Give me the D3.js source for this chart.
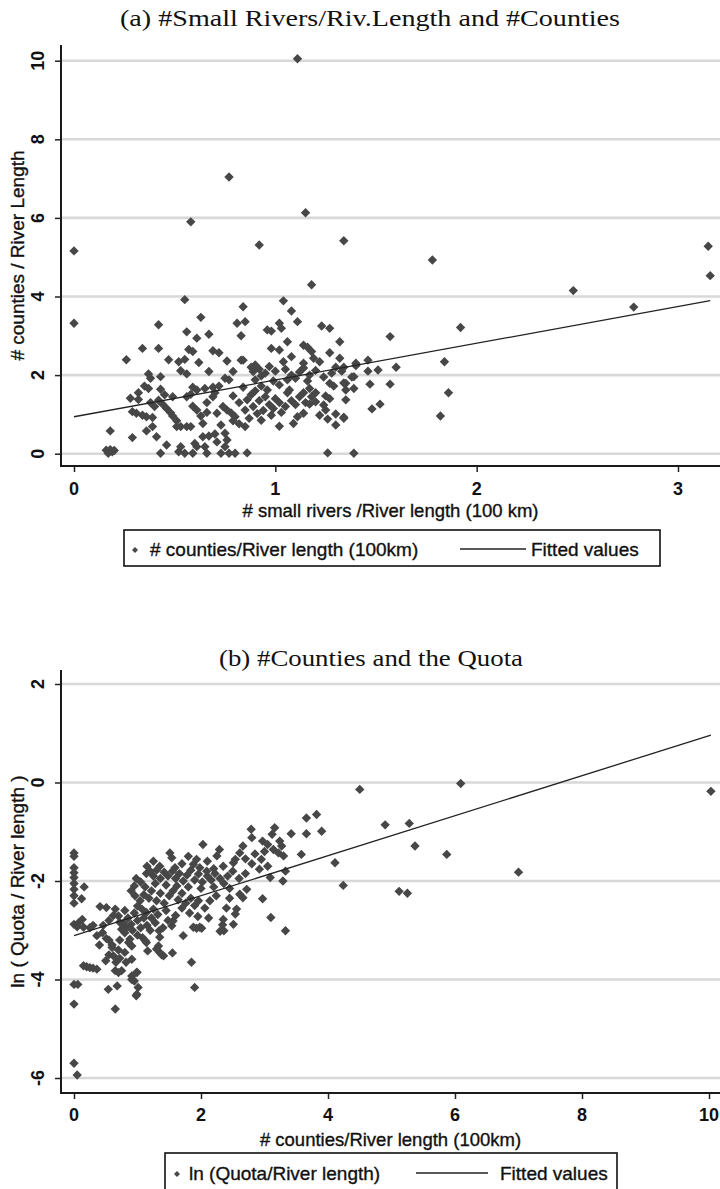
<!DOCTYPE html>
<html><head><meta charset="utf-8">
<script src="https://cdn.jsdelivr.net/npm/d3@7/dist/d3.min.js"></script>
<style>body{margin:0;background:#fff}</style>
</head><body>
<svg id="c" width="720" height="1189" xmlns="http://www.w3.org/2000/svg"></svg>
<script>
// ---------------- DATA ----------------
const titleA = "(a) #Small Rivers/Riv.Length and #Counties";
const titleB = "(b) #Counties and the Quota";
const xTitleA = "# small rivers /River length (100 km)";
const yTitleA = "# counties / River Length";
const xTitleB = "# counties/River length (100km)";
const yTitleB = "ln ( Quota / River length )";
const legendA = ["# counties/River length (100km)", "Fitted values"];
const legendB = ["ln (Quota/River length)", "Fitted values"];
const ticksAX = [0, 1, 2, 3];
const ticksAY = [0, 2, 4, 6, 8, 10];
const ticksBX = [0, 2, 4, 6, 8, 10];
const ticksBY = [-6, -4, -2, 0, 2];
// fitted line: [intercept, slope]
const fitA = [0.94, 0.935];
const fitB = [-3.11, 0.406];

// panel (a): [# small rivers / river length, # counties / river length]
const pointsA = [
[0,5.16],[0,3.32],[0.58,5.9],[0.77,7.04],[0.92,5.31],[1.11,10.05],[1.15,6.13],[1.18,4.3],[1.34,5.42],[1.78,4.93],
[2.48,4.15],[2.78,3.73],[3.15,5.28],[3.16,4.53],[1.92,3.21],[1.84,2.34],[1.86,1.55],[1.82,0.96],[1.57,2.98],[1.6,2.2],
[1.57,1.77],[1.47,1.77],[1.48,1.14],[1.52,1.26],[1.39,0.01],[1.26,0.02],[0.86,0.02],[1.51,2.13],[1.46,2.38],[1.39,1.96],
[0.55,3.92],[0.84,3.74],[1.04,3.89],[1.08,3.63],[0.42,3.28],[0.63,3.47],[0.81,3.32],[0.85,3.36],[1.11,3.36],[1.02,3.32],
[1.03,3.19],[1.23,3.25],[1.27,3.19],[0.96,3.15],[0.98,3.12],[0.56,3.1],[0.61,2.94],[0.67,3.04],[0.83,3.0],[1.32,2.85],
[1.06,2.85],[0.34,2.68],[0.42,2.68],[0.57,2.65],[0.59,2.6],[0.69,2.62],[0.72,2.57],[0.98,2.68],[1.02,2.64],[1.14,2.76],
[1.16,2.71],[1.18,2.6],[1.19,2.43],[1.22,2.34],[1.08,2.47],[1.27,2.57],[1.32,2.43],[1.04,2.34],[1.14,2.3],[0.84,2.38],
[0.26,2.39],[0.47,2.39],[0.52,2.34],[0.55,2.4],[0.62,2.32],[0.76,2.36],[0.83,2.38],[0.9,2.26],[0.53,2.11],[0.56,2.03],
[0.67,2.09],[0.79,2.09],[0.37,2.03],[0.38,1.92],[0.43,1.96],[0.75,1.92],[0.77,1.88],[0.89,2.09],[0.9,1.88],[0.88,2.2],
[0.92,2.15],[0.95,2.05],[0.97,2.22],[1.0,2.1],[0.93,1.98],[1.05,2.15],[1.08,2.0],[1.1,1.92],[1.12,2.08],[1.14,2.18],
[1.17,2.0],[1.2,2.12],[1.24,1.95],[1.28,2.05],[1.3,2.2],[1.34,2.2],[1.38,1.95],[1.33,2.1],[1.4,2.3],[1.4,2.24],
[1.46,2.1],[1.35,1.79],[1.35,1.62],[1.39,1.66],[1.27,1.79],[1.29,1.72],[1.17,1.66],[1.06,1.55],[1.25,1.47],[1.34,1.8],
[1.35,1.37],[1.34,0.9],[0.35,1.72],[0.37,1.66],[0.43,1.64],[0.59,1.69],[0.61,1.62],[0.65,1.66],[0.69,1.69],[0.72,1.72],
[0.84,1.69],[0.32,1.55],[0.28,1.41],[0.32,1.38],[0.49,1.45],[0.56,1.45],[0.58,1.51],[0.69,1.45],[0.79,1.47],[0.86,1.37],
[0.42,1.36],[0.44,1.26],[0.46,1.15],[0.59,1.21],[0.61,1.11],[0.74,1.2],[0.76,1.11],[0.78,1.04],[0.89,1.2],[0.91,1.02],
[0.85,1.11],[0.29,1.07],[0.31,1.03],[0.34,0.98],[0.36,0.94],[0.39,0.92],[0.48,1.04],[0.49,0.96],[0.63,0.96],[0.71,1.03],
[0.8,0.94],[0.88,1.5],[0.9,1.6],[0.92,1.35],[0.95,1.45],[0.97,1.25],[0.99,1.15],[1.0,1.4],[1.02,1.3],[1.03,1.05],
[1.05,1.2],[0.94,1.1],[0.98,0.98],[1.08,1.35],[1.1,1.25],[1.12,1.45],[1.15,1.3],[1.17,1.26],[1.2,1.32],[1.24,1.24],
[1.25,1.11],[1.3,1.01],[1.34,0.93],[1.3,0.73],[1.26,0.88],[1.09,0.77],[1.11,0.94],[1.14,1.03],[1.02,0.7],[0.93,0.85],
[0.96,1.62],[1.02,1.75],[0.93,1.72],[1.14,1.55],[1.2,1.55],[1.27,1.4],[0.51,0.84],[0.51,0.69],[0.53,0.69],[0.56,0.69],
[0.58,0.69],[0.64,0.77],[0.79,0.84],[0.82,0.76],[0.85,0.69],[0.73,0.73],[0.18,0.58],[0.29,0.41],[0.36,0.58],[0.39,0.69],
[0.41,0.43],[0.6,0.26],[0.64,0.43],[0.75,0.52],[0.76,0.35],[0.46,0.22],[0.43,0.01],[0.16,0.09],[0.17,0.01],[0.19,0.05],
[0.2,0.08],[0.18,0.1],[0.53,0.18],[0.52,0.05],[0.55,0.01],[0.61,0.18],[0.65,0.18],[0.66,0.01],[0.73,0.01],[0.77,0.01],
[0.8,0.01],[0.75,0.18],[0.59,0.01],[0.67,0.45],[0.7,0.5],[0.71,0.3],[0.38,1.3],[0.4,1.2],[0.45,1.5],[0.66,1.3],
[0.7,1.55],[0.66,1.05],[0.82,1.3],[0.87,0.9],[1.22,0.98],[1.18,1.45],[1.07,1.62],[0.99,1.85],[1.06,1.88],[1.16,1.85]
];

// panel (b): [# counties / river length, ln(quota / river length)]
const pointsB = [
[0,-1.43],[0,-1.5],[0,-1.73],[0,-1.83],[0,-1.93],[0,-2.05],[0,-2.17],[0,-2.3],[0,-2.45],[0,-2.88],
[0,-4.1],[0,-4.5],[0,-5.7],[0.05,-5.94],[0.06,-4.1],[0.05,-2.93],[0.16,-2.12],[0.12,-2.36],[0.13,-2.78],[0.15,-2.94],
[0.08,-2.84],[0.15,-3.72],[0.2,-3.74],[0.25,-3.76],[0.3,-3.77],[0.36,-3.79],[0.41,-2.52],[0.46,-2.9],[0.36,-3.11],[0.51,-3.17],
[0.5,-3.62],[0.62,-3.52],[0.72,-3.57],[0.65,-3.82],[0.7,-3.86],[0.75,-3.82],[0.91,-3.93],[0.99,-3.86],[0.95,-4.03],[1.01,-4.16],
[0.98,-4.33],[0.54,-4.2],[0.68,-4.13],[0.65,-4.6],[0.91,-3.59],[1.16,-3.42],[1.33,-3.32],[1.35,-3.45],[1.41,-3.52],[1.55,-3.46],
[1.85,-3.65],[1.9,-4.16],[1.72,-3.11],[1.88,-2.94],[1.98,-2.94],[2.35,-2.78],[2.36,-3.01],[2.51,-2.88],[3.33,-3.01],[3.1,-2.74],
[2.56,-2.57],[2.54,-2.67],[0.65,-2.57],[0.7,-2.71],[0.72,-2.84],[0.75,-2.98],[0.8,-3.05],[0.88,-3.18],[0.91,-3.32],[0.86,-3.25],
[1.12,-3.21],[1.35,-3.14],[1.34,-3.01],[1.54,-2.91],[1.56,-2.81],[3.82,-0.65],[3.66,-0.72],[3.9,-0.99],[3.66,-1.04],[3.42,-1.04],
[3.16,-0.92],[3.12,-1.05],[2.79,-0.95],[2.8,-1.12],[2.97,-1.19],[3.05,-1.26],[3.14,-1.36],[3.24,-1.19],[3.27,-1.29],[3.22,-1.43],
[3.3,-1.49],[3.58,-1.46],[4.11,-1.63],[4.24,-2.09],[2.66,-1.29],[2.61,-1.43],[2.54,-1.56],[2.51,-1.63],[2.95,-1.56],[2.92,-1.76],
[3.09,-1.93],[3.29,-2.0],[3.33,-1.8],[2.03,-1.26],[2.29,-1.36],[2.25,-1.49],[1.51,-1.43],[1.54,-1.53],[1.59,-1.73],[1.93,-1.56],
[1.88,-1.66],[1.98,-1.73],[2.09,-1.8],[2.72,-2.17],[2.61,-2.27],[2.66,-2.34],[2.97,-2.36],[4.5,-0.14],[6.09,-0.02],[10.03,-0.18],
[4.9,-0.86],[5.28,-0.83],[5.37,-1.29],[5.87,-1.46],[7.0,-1.82],[5.12,-2.21],[5.25,-2.25],
[1.14,-1.85],[1.2,-1.8],[1.25,-1.9],[1.3,-1.78],[1.36,-1.95],[1.42,-1.82],[1.48,-1.9],[1.55,-1.8],[1.6,-1.95],[1.66,-1.85],
[1.72,-2.0],[1.78,-1.88],[1.84,-1.78],[1.9,-1.98],[1.96,-1.86],[2.02,-2.02],[2.1,-1.9],[2.16,-1.98],[2.22,-1.85],[2.3,-1.95],
[2.36,-2.05],[2.42,-1.9],[1.28,-2.05],[1.45,-2.08],[1.62,-2.1],[1.8,-2.12],[2.0,-2.15],[2.2,-2.12],[1.05,-2.02],[0.98,-1.95],
[0.95,-2.1],[1.12,-2.12],[0.9,-2.2],[0.96,-2.3],[1.04,-2.4],[1.1,-2.28],[1.18,-2.35],[1.22,-2.2],[1.3,-2.4],[1.36,-2.25],
[1.42,-2.45],[1.5,-2.3],[1.56,-2.2],[1.64,-2.38],[1.7,-2.25],[1.76,-2.45],[1.84,-2.35],[1.9,-2.5],[1.96,-2.4],[2.06,-2.55],
[2.14,-2.4],[2.24,-2.3],[1.0,-2.51],[1.07,-2.57],[1.14,-2.64],[1.25,-2.57],[1.32,-2.68],[1.45,-2.6],[1.6,-2.7],[1.7,-2.55],
[1.82,-2.65],[1.95,-2.72],[2.12,-2.75],[2.4,-2.55],[2.45,-2.35],[0.8,-2.6],[0.85,-2.75],[0.9,-2.88],[0.95,-2.65],[1.0,-2.8],
[1.05,-2.95],[1.1,-2.75],[1.15,-2.9],[1.2,-3.0],[1.22,-2.75],[1.28,-2.85],[1.4,-2.95],[1.48,-2.8],[0.82,-2.95],[0.78,-2.85],
[0.92,-3.0],[1.0,-3.1],[1.08,-3.15],[1.25,-1.6],[1.35,-1.7],[1.7,-1.65],[1.8,-1.5],[2.1,-1.6],[2.35,-1.7],[2.2,-1.75],
[1.15,-1.7],[2.5,-1.8],[2.6,-1.95],[2.45,-2.15],[2.7,-1.85],[2.8,-1.65],[2.85,-1.45],[2.7,-1.55],[3.0,-1.4],[3.05,-1.7],
[0.3,-2.9],[0.25,-2.95],[0.45,-3.05],[0.55,-3.2],[0.6,-3.3],[0.7,-3.4],[0.4,-3.3],[0.62,-2.7],[0.55,-2.8],[0.6,-3.35],
[0.72,-3.2],[0.8,-3.45],[0.66,-3.65],[0.55,-3.5],[0.82,-3.65],[1.14,-3.25],[1.3,-3.38],[1.38,-3.5],[1.93,-2.96],[2.01,-2.96],
[2.3,-3.02],[2.34,-2.89],[0.51,-2.54],[0.99,-3.85],[0.91,-4.0],[0.99,-4.3]
];

// ---------------- DRAW ----------------
const svg = d3.select("#c");
const SANS = "'Liberation Sans', Arial, sans-serif";
const SERIF = "'Liberation Serif', 'Times New Roman', serif";
const MARK = "#474747";
const diamond = d3.symbol().type(d3.symbolSquare).size(44);
const legDiamond = d3.symbol().type(d3.symbolSquare).size(18);

function sansText(sel, size, bold) {
  return sel.attr("font-family", SANS).attr("font-size", size)
    .attr("font-weight", bold ? "bold" : "normal").attr("fill", "#111")
    .attr("stroke", bold ? "none" : "#111").attr("stroke-width", bold ? 0 : 0.35);
}

function panel(o) {
  const g = svg.append("g");
  const x = d3.scaleLinear().domain(o.xDom).range(o.xRange);
  const y = d3.scaleLinear().domain(o.yDom).range(o.yRange);

  // title
  g.append("text").attr("x", o.titleX).attr("y", o.titleY)
    .attr("text-anchor", "middle").attr("font-family", SERIF)
    .attr("font-size", 23).attr("textLength", o.titleLen).attr("lengthAdjust", "spacingAndGlyphs")
    .attr("fill", "#111").text(o.title);

  // gridlines
  g.append("g").selectAll("line").data(o.yTicks).join("line")
    .attr("x1", o.axisX).attr("x2", 720).attr("y1", d => y(d)).attr("y2", d => y(d))
    .attr("stroke", "#d8d8d8").attr("stroke-width", 2.6);

  // points
  g.append("g").selectAll("path").data(o.points).join("path")
    .attr("d", diamond)
    .attr("transform", d => `translate(${x(d[0])},${y(d[1])}) rotate(45)`)
    .attr("fill", MARK);

  // fitted line
  const ext = d3.extent(o.points, d => d[0]);
  const line = d3.line().x(d => x(d)).y(d => y(o.fit[0] + o.fit[1] * d));
  g.append("path").attr("d", line(ext)).attr("fill", "none")
    .attr("stroke", "#222").attr("stroke-width", 1.3);

  // y axis
  const yAx = g.append("g").attr("transform", `translate(${o.axisX},0)`)
    .call(d3.axisLeft(y).tickValues(o.yTicks).tickSize(6).tickFormat(d3.format("d")));
  yAx.select(".domain").remove();
  yAx.selectAll(".tick line").attr("stroke", "#222").attr("stroke-width", 1.5);
  yAx.selectAll(".tick text").remove();
  g.append("line").attr("x1", o.axisX).attr("x2", o.axisX).attr("y1", o.axisTop).attr("y2", o.axisY + 1)
    .attr("stroke", "#1a1a1a").attr("stroke-width", 2);
  sansText(g.append("g").selectAll("text").data(o.yTicks).join("text"), 18, true)
    .attr("transform", d => `translate(38,${y(d)}) rotate(-90)`)
    .attr("text-anchor", "middle").attr("dy", "0.36em")
    .text(d => d3.format("d")(d).replace("\u2212", "-"));

  // x axis
  const xAx = g.append("g").attr("transform", `translate(0,${o.axisY})`)
    .call(d3.axisBottom(x).tickValues(o.xTicks).tickSize(6).tickFormat(d3.format("d")));
  xAx.select(".domain").remove();
  xAx.selectAll(".tick line").attr("stroke", "#222").attr("stroke-width", 1.5);
  xAx.selectAll(".tick text").remove();
  g.append("line").attr("x1", o.axisX - 1).attr("x2", 720).attr("y1", o.axisY).attr("y2", o.axisY)
    .attr("stroke", "#1a1a1a").attr("stroke-width", 2);
  sansText(g.append("g").selectAll("text").data(o.xTicks).join("text"), 18, true)
    .attr("x", d => x(d)).attr("y", o.xTickY).attr("text-anchor", "middle")
    .text(d => d3.format("d")(d));

  // axis titles
  sansText(g.append("text"), 18.5, false)
    .attr("x", (o.axisX + 720) / 2).attr("y", o.xTitleY).attr("text-anchor", "middle").text(o.xTitle);
  sansText(g.append("text"), 19, false)
    .attr("transform", `translate(17,${(o.axisTop + o.axisY) / 2}) rotate(-90)`)
    .attr("text-anchor", "middle").attr("dy", "0.36em").text(o.yTitle);

  // legend
  const L = o.legend;
  g.append("rect").attr("x", L.x).attr("y", L.y).attr("width", L.w).attr("height", L.h)
    .attr("fill", "none").attr("stroke", "#111").attr("stroke-width", 1.6);
  g.append("path").attr("d", legDiamond)
    .attr("transform", `translate(${L.markX},${L.textY - 6}) rotate(45)`).attr("fill", MARK);
  sansText(g.append("text"), 19, false).attr("x", L.text1X).attr("y", L.textY).text(L.labels[0]);
  g.append("line").attr("x1", L.lineX1).attr("x2", L.lineX2).attr("y1", L.textY - 7).attr("y2", L.textY - 7)
    .attr("stroke", "#222").attr("stroke-width", 1.5);
  sansText(g.append("text"), 19, false).attr("x", L.text2X).attr("y", L.textY).text(L.labels[1]);
}

panel({
  title: titleA, titleX: 370, titleY: 26, titleLen: 500,
  xDom: [0, 3], xRange: [74, 678], yDom: [0, 10], yRange: [453.7, 60.7],
  axisX: 61, axisTop: 45, axisY: 466,
  xTicks: ticksAX, yTicks: ticksAY, points: pointsA, fit: fitA,
  xTickY: 495, xTitleY: 517, xTitle: xTitleA, yTitle: yTitleA,
  legend: {x: 124, y: 530, w: 536, h: 36, markX: 135, textY: 556, text1X: 150,
           lineX1: 460, lineX2: 526, text2X: 531, labels: legendA}
});

panel({
  title: titleB, titleX: 371, titleY: 666, titleLen: 304,
  xDom: [0, 10], xRange: [74, 709], yDom: [-6, 2], yRange: [1078, 684],
  axisX: 61, axisTop: 670, axisY: 1093,
  xTicks: ticksBX, yTicks: ticksBY, points: pointsB, fit: fitB,
  xTickY: 1121, xTitleY: 1146, xTitle: xTitleB, yTitle: yTitleB,
  legend: {x: 165, y: 1153, w: 452, h: 44, markX: 177, textY: 1180, text1X: 189,
           lineX1: 416, lineX2: 488, text2X: 500, labels: legendB}
});
</script>
</body></html>
